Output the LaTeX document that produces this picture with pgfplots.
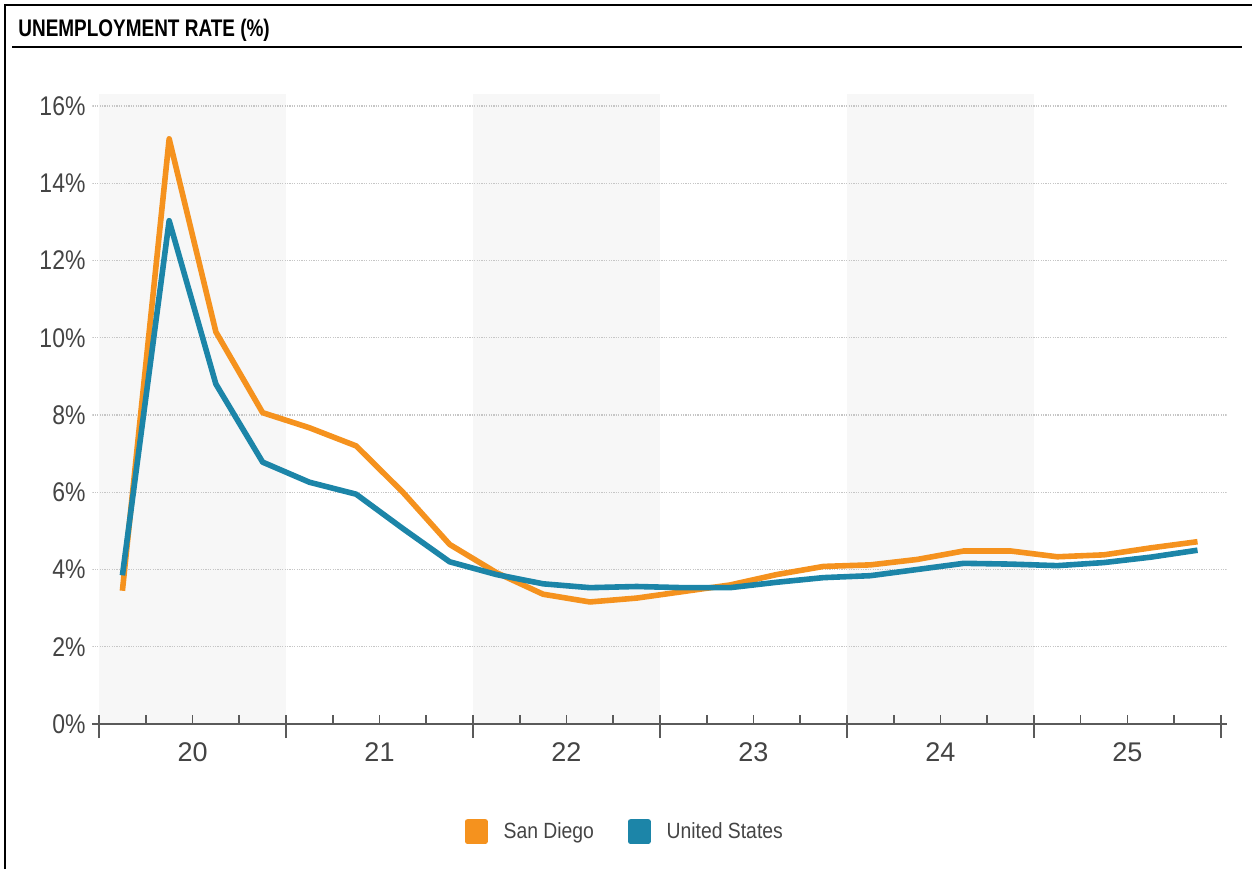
\documentclass[border=0pt]{standalone}
\usepackage{fontspec}
\setmainfont{Liberation Sans}
\usepackage{pgfplots}
\pgfplotsset{compat=1.18}
\usepackage{pgfplotstable}

\definecolor{sdorange}{RGB}{245,146,30}
\definecolor{usblue}{RGB}{28,133,168}
\definecolor{band}{RGB}{247,247,247}
\definecolor{txt}{RGB}{68,68,68}
\definecolor{axisgray}{RGB}{90,90,90}

% quarterly rates, x = years since start of 2020 (mid-quarter)
\pgfplotstableread{
x     sd     us
0.125 3.45   3.85
0.375 15.15  13.03
0.625 10.15  8.80
0.875 8.06   6.78
1.125 7.67   6.26
1.375 7.20   5.95
1.625 6.00   5.06
1.875 4.65   4.20
2.125 3.92   3.87
2.375 3.36   3.63
2.625 3.16   3.53
2.875 3.26   3.56
3.125 3.43   3.53
3.375 3.60   3.53
3.625 3.87   3.67
3.875 4.08   3.79
4.125 4.12   3.84
4.375 4.26   4.00
4.625 4.48   4.16
4.875 4.48   4.14
5.125 4.33   4.10
5.375 4.38   4.18
5.625 4.56   4.32
5.875 4.72   4.50
}\rates

\begin{document}
\begin{tikzpicture}
\path[use as bounding box] (0,0) rectangle (626pt,-434.5pt);
\draw[line width=1.2pt] (2.5pt,-434.5pt) -- (2.5pt,-2.5pt) -- (626pt,-2.5pt);
\draw[line width=0.8pt] (6pt,-23.5pt) -- (621pt,-23.5pt);
\node[anchor=base west, inner sep=0pt] at (9pt,-18pt)
  {\scalebox{0.79}[1]{\fontsize{12}{14}\selectfont\bfseries UNEMPLOYMENT RATE (\%)}};

\begin{axis}[
  at={(46.25pt,-362pt)}, anchor=south west,
  scale only axis, width=567pt, height=314.8pt,
  xmin=-0.035, xmax=6.03, ymin=0, ymax=16.3,
  axis on top,
  /pgf/number format/assume math mode=true,
  axis x line=bottom, axis y line=left,
  axis line style={-, draw=axisgray, line width=1.25pt},
  y axis line style={draw=none},
  ytick={0,2,...,16},
  ytick style={draw=none},
  yticklabel={\scalebox{0.85}[1]{\pgfmathprintnumber{\tick}\%}},
  yticklabel style={font=\fontsize{13.5}{15}\selectfont, text=txt},
  xtick={0.5,1.5,2.5,3.5,4.5,5.5},
  xticklabels={20,21,22,23,24,25},
  minor xtick={0.25,0.75,1.25,1.75,2.25,2.75,3.25,3.75,4.25,4.75,5.25,5.75},
  tick align=inside,
  major tick length=4.5pt,
  minor tick length=4.5pt,
  x tick style={draw=axisgray, line width=0.8pt},
  extra x ticks={0,1,2,3,4,5,6},
  extra x tick labels={,,,,,,},
  extra x tick style={major tick length=11.5pt,
    tick style={draw=axisgray, line width=1.2pt, yshift=-7pt}},
  xticklabel style={font=\fontsize{13.5}{15}\selectfont, text=txt, yshift=-5.7pt},
  legend columns=2,
  legend style={draw=none, fill=none, at={(0.4704,-0.171)}, anchor=center,
    font=\fontsize{11}{13}\selectfont, text=txt,
    /tikz/every odd column/.append style={column sep=6pt},
    /tikz/every even column/.append style={column sep=15pt}},
  legend image code/.code={\fill[#1] (0pt,-5pt) rectangle (8.5pt,5pt);},
]
% alternating year bands
\addplot[draw=none, fill=band, forget plot] coordinates {(0,16.3) (1,16.3)} \closedcycle;
\addplot[draw=none, fill=band, forget plot] coordinates {(2,16.3) (3,16.3)} \closedcycle;
\addplot[draw=none, fill=band, forget plot] coordinates {(4,16.3) (5,16.3)} \closedcycle;
% dotted gridlines over the bands
\pgfplotsinvokeforeach{2,4,...,16}{
  \addplot[gray!45, line width=0.6pt, dash pattern=on 0.6pt off 0.6pt, forget plot]
    coordinates {(-0.035,#1) (6.03,#1)};
}
\addplot[sdorange, line width=2.8pt, line join=round] table[x=x, y=sd] {\rates};
\addlegendentry{\scalebox{0.88}[1]{San Diego}}
\addplot[usblue, line width=2.8pt, line join=round] table[x=x, y=us] {\rates};
\addlegendentry{\scalebox{0.88}[1]{United States}}
\end{axis}
\end{tikzpicture}
\end{document}
